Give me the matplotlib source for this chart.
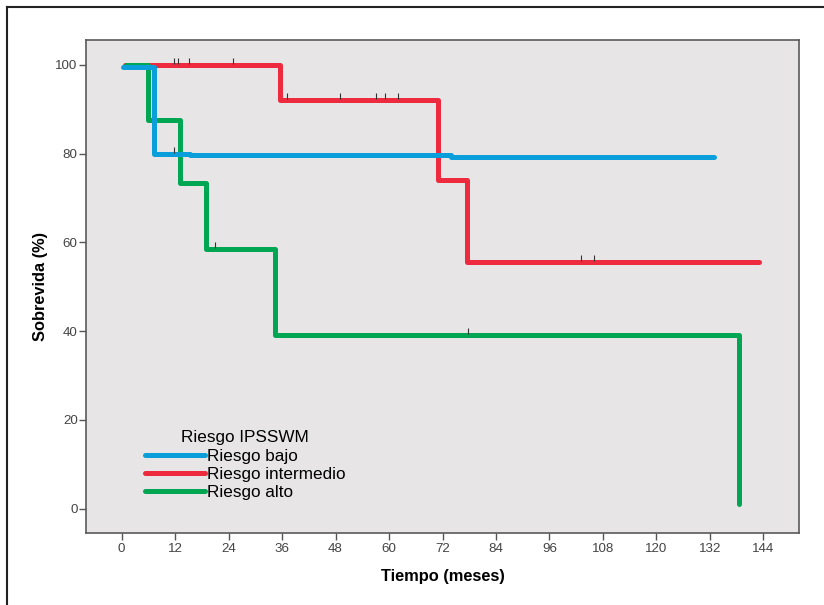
import numpy as np
import matplotlib
matplotlib.use('Agg')
import matplotlib.pyplot as plt
from matplotlib.lines import Line2D

plt.rcParams['font.family'] = ['Liberation Sans', 'DejaVu Sans']

# Kaplan-Meier curves (time in months, survival in %)
bajo_t = [0.3, 7.3, 15.4, 74.0, 133.0]
bajo_s = [99.5, 80.0, 79.6, 79.3, 79.3]
inter_t = [0.8, 35.6, 71.0, 77.4, 143.0]
inter_s = [100.0, 92.0, 74.1, 55.6, 55.6]
alto_t = [1.0, 6.0, 13.1, 18.9, 34.5, 138.5]
alto_s = [100.0, 87.5, 73.4, 58.5, 39.2, 1.1]

# censored marks
cens_inter_t = [11.8, 12.6, 15.0, 24.9, 37.0, 49.0, 57.0, 59.0, 62.0, 103.0, 106.0]
cens_inter_s = [100, 100, 100, 100, 92, 92, 92, 92, 92, 55.6, 55.6]
cens_bajo_t = [11.8]
cens_bajo_s = [80.0]
cens_alto_t = [21.0, 77.8]
cens_alto_s = [58.5, 39.2]

labels = ['Riesgo bajo', 'Riesgo intermedio', 'Riesgo alto']
colores = ['#0a9fdb', '#ee2a3e', '#00a651']
xticks = np.arange(0, 145, 12)
yticks = [0, 20, 40, 60, 80, 100]

fig = plt.figure(figsize=(8.24, 6.05), dpi=100)
ax = fig.add_axes([0.1044, 0.119, 0.8653, 0.815])
ax.set_facecolor('#e7e5e6')

lw = 3.6
ax.step(inter_t, inter_s, where='post', color=colores[1], lw=lw, solid_capstyle='round', solid_joinstyle='round', zorder=2)
ax.step(alto_t, alto_s, where='post', color=colores[2], lw=lw, solid_capstyle='round', solid_joinstyle='round', zorder=3)
ax.step(bajo_t, bajo_s, where='post', color=colores[0], lw=lw, solid_capstyle='round', solid_joinstyle='round', zorder=4)

for ct, cs in [(cens_inter_t, cens_inter_s), (cens_bajo_t, cens_bajo_s), (cens_alto_t, cens_alto_s)]:
    ax.plot(ct, np.array(cs) + 0.9, ls='none', marker='|', ms=4, mew=0.8, color='#333333', zorder=5)

ax.set_xlim(-8, 152)
ax.set_ylim(-5.5, 105.6)
ax.set_xticks(xticks)
ax.set_yticks(yticks)
ax.tick_params(direction='out', length=5, width=1, colors='#555555', labelcolor='#444444', labelsize=9.6)
ax.tick_params(axis='x', pad=2)
ax.tick_params(axis='y', pad=1)
for s in ax.spines.values():
    s.set_color('#5a5a5a')
    s.set_linewidth(1.2)

ax.set_xlabel('Tiempo (meses)', fontsize=11.8, fontweight='bold', labelpad=10)
ax.set_ylabel('Sobrevida (%)', fontsize=11.8, fontweight='bold', labelpad=5)

handles = [Line2D([], [], color=c, lw=lw, solid_capstyle='round') for c in colores]
leg = ax.legend(handles, labels, title='Riesgo IPSSWM', loc='lower left', bbox_to_anchor=(0.083, 0.066),
                frameon=False, fontsize=12.3, title_fontsize=12.3, handlelength=3.5, handletextpad=0.1,
                labelspacing=0.2, borderpad=0, borderaxespad=0)

# outer frame of the picture
fig.add_artist(Line2D([7/824, 7/824], [0, 1 - 7/605], transform=fig.transFigure, color='#222222', lw=1.5))
fig.add_artist(Line2D([7/824, 1], [1 - 7/605, 1 - 7/605], transform=fig.transFigure, color='#222222', lw=1.5))

plt.savefig('out.png', dpi=100)
